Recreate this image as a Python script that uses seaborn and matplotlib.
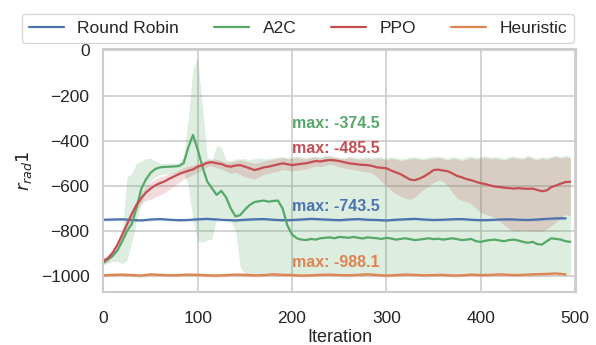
import numpy as np
import pandas as pd
import matplotlib
matplotlib.use("Agg")
import matplotlib.pyplot as plt
import seaborn as sns

# ---------------- data ----------------
iters = np.arange(0, 500, 5)          # 0..495 for A2C / PPO
iters_flat = np.arange(0, 500, 10)    # 0..490 for Round Robin / Heuristic

a2c_mean = [-940, -925, -910, -885, -845, -800, -770, -700, -615, -572,
            -542, -525, -518, -516, -515, -514, -512, -500, -430, -374.5,
            -440, -515, -580, -610, -640, -622, -650, -700, -735, -730,
            -705, -685, -672, -668, -665, -670, -667, -665, -700, -775,
            -815, -832, -838, -840, -835, -838, -832, -830, -828, -832,
            -826, -828, -830, -826, -830, -833, -828, -830, -832, -835,
            -830, -833, -838, -835, -832, -836, -840, -838, -835, -832,
            -836, -834, -838, -835, -832, -836, -840, -838, -835, -845,
            -848, -843, -840, -838, -842, -845, -840, -838, -842, -848,
            -852, -848, -858, -860, -845, -832, -835, -838, -845, -848]
a2c_lo = [-950, -942, -935, -935, -945, -930, -850, -760, -680, -620,
          -580, -560, -550, -548, -545, -545, -545, -540, -600, -750,
          -845, -850, -840, -835, -745, -740, -742, -755, -800, -960,
          -988, -990, -989, -991, -990, -988, -990, -989, -991, -990,
          -988, -990, -989, -991, -990, -988, -990, -989, -991, -990,
          -988, -990, -989, -991, -990, -988, -990, -989, -991, -990,
          -988, -990, -989, -991, -990, -988, -990, -989, -991, -990,
          -988, -990, -989, -991, -990, -988, -990, -989, -991, -990,
          -988, -990, -989, -991, -990, -988, -990, -989, -991, -990,
          -988, -990, -989, -991, -990, -988, -990, -989, -991, -990]
a2c_hi = [-932, -915, -900, -875, -800, -560, -545, -500, -490, -480,
          -477, -490, -500, -500, -498, -500, -498, -470, -300, -80,
          -35, -250, -470, -490, -420, -430, -485, -488, -480, -482,
          -478, -485, -480, -476, -480, -478, -475, -472, -470, -475,
          -472, -468, -472, -475, -470, -468, -472, -465, -468, -470,
          -472, -476, -470, -472, -475, -474, -470, -474, -470, -472,
          -478, -470, -475, -480, -478, -472, -470, -476, -478, -472,
          -470, -468, -472, -478, -470, -474, -480, -472, -468, -474,
          -470, -466, -472, -470, -474, -478, -470, -468, -472, -475,
          -465, -472, -478, -470, -475, -468, -465, -470, -466, -470]

ppo_mean = [-932, -920, -895, -860, -815, -770, -725, -685, -655, -630,
            -612, -598, -588, -580, -568, -558, -548, -540, -533, -527,
            -515, -508, -498, -495, -500, -503, -512, -515, -510, -508,
            -515, -522, -530, -525, -518, -515, -510, -505, -500, -504,
            -508, -505, -502, -500, -495, -490, -492, -488, -485.5, -487,
            -490, -495, -500, -502, -505, -507, -508, -512, -518, -520,
            -522, -532, -540, -548, -560, -572, -575, -568, -558, -545,
            -530, -528, -532, -535, -545, -556, -562, -570, -575, -582,
            -588, -592, -598, -603, -605, -608, -610, -612, -610, -612,
            -613, -612, -618, -624, -620, -605, -598, -590, -583, -582]
ppo_lo = [-945, -935, -910, -877, -832, -788, -745, -705, -680, -665,
          -660, -650, -640, -630, -615, -600, -585, -570, -560, -550,
          -540, -528, -515, -512, -520, -525, -535, -545, -540, -550,
          -560, -565, -570, -560, -548, -545, -540, -535, -528, -530,
          -535, -532, -528, -525, -518, -512, -515, -510, -505, -510,
          -515, -520, -525, -528, -532, -535, -538, -545, -560, -580,
          -600, -620, -635, -645, -655, -660, -650, -630, -615, -600,
          -585, -575, -580, -600, -630, -655, -665, -670, -680, -700,
          -718, -725, -732, -740, -755, -775, -790, -798, -800, -795,
          -800, -798, -802, -800, -790, -775, -760, -740, -725, -735]
ppo_hi = [-920, -905, -880, -843, -798, -752, -707, -665, -632, -605,
          -585, -570, -560, -555, -545, -540, -530, -520, -512, -508,
          -500, -492, -485, -480, -482, -488, -495, -495, -490, -485,
          -490, -495, -500, -495, -490, -485, -482, -478, -475, -480,
          -478, -475, -478, -480, -475, -472, -478, -470, -468, -475,
          -478, -480, -475, -478, -482, -480, -478, -482, -478, -480,
          -485, -478, -482, -488, -485, -480, -478, -482, -485, -480,
          -478, -475, -480, -485, -478, -482, -488, -480, -476, -482,
          -478, -475, -480, -478, -482, -485, -478, -476, -480, -482,
          -470, -480, -485, -478, -482, -475, -470, -478, -472, -475]

rr_mean = [-750, -749, -748, -751, -753, -749, -747, -750, -752, -751,
           -748, -746, -749, -751, -753, -750, -748, -747, -750, -752,
           -751, -749, -746, -748, -750, -752, -749, -747, -750, -751,
           -753, -750, -748, -746, -749, -751, -750, -748, -747, -750,
           -752, -751, -749, -748, -750, -751, -749, -746, -744, -743.5]
rr_lo = [v - 6 for v in rr_mean]
rr_hi = [v + 6 for v in rr_mean]

heur_mean = [-996, -994, -993, -995, -997, -992, -994, -996, -995, -993,
             -994, -996, -997, -995, -993, -994, -996, -995, -992, -994,
             -995, -997, -996, -994, -993, -995, -996, -994, -992, -995,
             -997, -995, -993, -994, -996, -995, -994, -997, -996, -993,
             -995, -994, -992, -994, -995, -993, -991, -990, -988.1, -992]
heur_lo = [v - 8 for v in heur_mean]
heur_hi = [v + 8 for v in heur_mean]

series = [
    ("Round Robin", iters_flat, rr_mean, rr_lo, rr_hi),
    ("A2C", iters, a2c_mean, a2c_lo, a2c_hi),
    ("PPO", iters, ppo_mean, ppo_lo, ppo_hi),
    ("Heuristic", iters_flat, heur_mean, heur_lo, heur_hi),
]

# ---------------- styling ----------------
sns.set_theme(style="whitegrid")
plt.rcParams["font.family"] = ["Liberation Sans", "DejaVu Sans"]
plt.rcParams["axes.edgecolor"] = "#cccccc"
plt.rcParams["grid.color"] = "#cccccc"
plt.rcParams["axes.linewidth"] = 1.5
plt.rcParams["grid.linewidth"] = 1.2

palette = sns.color_palette("deep")
colors = {"Round Robin": palette[0], "A2C": palette[2],
          "PPO": palette[3], "Heuristic": palette[1]}

fig = plt.figure(figsize=(5.96, 3.45), dpi=100)
ax = fig.add_axes([0.1735, 0.1536, 0.7929, 0.7043])

for name, xs, m, lo, hi in series:
    ax.fill_between(xs, lo, hi, color=colors[name], alpha=0.2, linewidth=0)

handles = []
for name, xs, m, lo, hi in series:
    df = pd.DataFrame({"Iteration": xs, "value": m})
    sns.lineplot(data=df, x="Iteration", y="value", ax=ax,
                 color=colors[name], linewidth=1.6, label=name, legend=False)
    handles.append(ax.lines[-1])

for name, xs, m, lo, hi in series:
    mx = max(m)
    ax.text(200, mx + 50, f"max: {mx:.1f}", color=colors[name],
            fontsize=11.5, fontweight="bold", ha="left", va="center")

ax.set_xlim(0, 501)
ax.set_ylim(-1070, 6)
ax.set_xticks([0, 100, 200, 300, 400, 500])
ax.set_yticks([0, -200, -400, -600, -800, -1000])
ax.tick_params(axis="x", length=0, pad=14, labelsize=12.5, colors="#262626")
ax.tick_params(axis="y", length=0, pad=10, labelsize=12.5, colors="#262626")
ax.set_xlabel("Iteration", fontsize=13, labelpad=2, color="#262626")
ax.set_ylabel("$r_{rad}1$", fontsize=13, labelpad=5, color="#262626")

fig.legend(handles, [s[0] for s in series], loc="upper center",
           bbox_to_anchor=(0.5, 0.985), ncol=4, fontsize=12.5,
           frameon=True, handlelength=2.0, columnspacing=2.0,
           handletextpad=0.8, borderpad=0.4)

fig.savefig("out.png", dpi=100)
